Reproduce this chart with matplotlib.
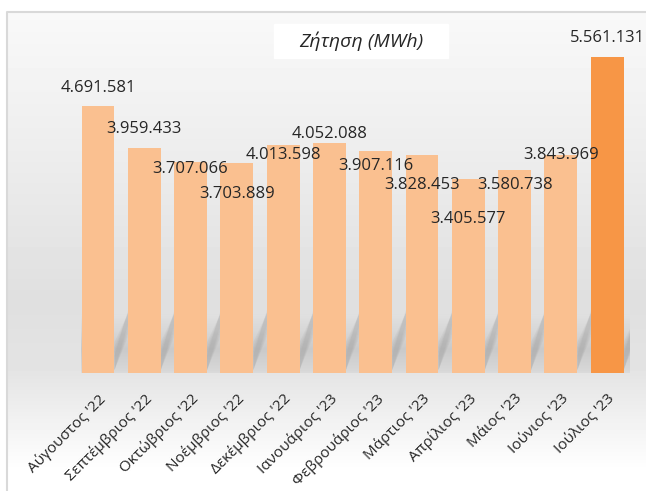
import matplotlib
matplotlib.use("Agg")
import matplotlib.pyplot as plt
import numpy as np
from matplotlib.patches import Rectangle, Polygon

months = ["Αύγουστος '22", "Σεπτέμβριος '22", "Οκτώβριος '22", "Νοέμβριος '22",
          "Δεκέμβριος '22", "Ιανουάριος '23", "Φεβρουάριος '23", "Μάρτιος '23",
          "Απρίλιος '23", "Μάιος '23", "Ιούνιος '23", "Ιούλιος '23"]
demand = [4691581, 3959433, 3707066, 3703889, 4013598, 4052088,
          3907116, 3828453, 3405577, 3580738, 3843969, 5561131]
# where each value label sits relative to the bar top (px, + = lower)
label_shift = [-18, -19, 7, 31, 10, -9, 15, 30, 40, 15, 0, -19]

plt.rcParams['font.family'] = ['Open Sans', 'DejaVu Sans']

W, H = 646, 491
fig = plt.figure(figsize=(W / 100, H / 100), dpi=100)

# background with gradient + frame
bg = fig.add_axes([0, 0, 1, 1])
bg.set_xlim(0, W)
bg.set_ylim(H, 0)
bg.axis('off')
ys = np.arange(H)
g = np.interp(ys, [12, 150, 300, 372, 470, 491],
              [0.975, 0.93, 0.875, 0.895, 1.0, 1.0])
img = np.tile(g[:, None], (1, W))
img[:12, :] = 1
img[:, :7] = 1
bg.imshow(img, cmap='gray', vmin=0, vmax=1, extent=[0, W, H, 0],
          aspect='auto', interpolation='bilinear')
bg.plot([7, 7, W], [H, 12, 12], color='#d9d9d9', lw=1.5)
bg.add_patch(Rectangle((274, 24), 174, 34, color='white'))
bg.text(361, 41, 'Ζήτηση (MWh)', style='italic', fontsize=14,
        ha='center', va='center', color='#262626')

# main chart
left, right, bottom, top = 74.85, 630.3, 373, 15
ax = fig.add_axes([left / W, (H - bottom) / H, (right - left) / W, (bottom - top) / H])
ax.patch.set_alpha(0)

x = np.arange(len(months))
w = 0.71
colors = ['#FAC090'] * (len(months) - 1) + ['#F79646']

# darker floor band of the plot area
yy = np.linspace(0, 1, 60)
band_alpha = np.interp(yy, [0, 0.15, 0.4, 0.7, 1.0], [0.12, 0.18, 0.30, 0.12, 0.0])
band = np.zeros((60, 2, 4))
band[..., :3] = 0.55
band[..., 3] = band_alpha[::-1, None]
ax.imshow(band, extent=[-0.36, 11.54, 0, 1.05e6], aspect='auto',
          interpolation='bilinear', zorder=0.5)

# soft diagonal shadows behind the bars
for i in x:
    xr = i + w / 2
    for k in [0.0, 0.04, 0.08, 0.12]:
        sh = Polygon([(xr, 0.05e6), (xr + 0.33 + k, 0.95e6),
                      (xr + 0.33 + k, 1.2e6 + k * 1e6), (xr, 0.3e6 + k * 2e6)],
                     closed=True, color='#808080', alpha=0.08, lw=0, zorder=1)
        ax.add_patch(sh)

ax.bar(x, demand, width=w, color=colors, zorder=2)

for i, v in enumerate(demand):
    ax.annotate(f"{v:,}".replace(",", "."), xy=(i, v),
                xytext=(0, -label_shift[i] * 0.72), textcoords='offset points',
                ha='center', va='center', fontsize=12, color='#262626', zorder=3)

ax.set_xticks(x)
ax.set_xticklabels(months, rotation=45, ha='right', rotation_mode='anchor',
                   fontsize=11, color='#262626')
ax.tick_params(axis='x', length=0, pad=13)
ax.set_xlim(-0.5, 11.5)
ax.set_ylim(0, 6.3e6)
ax.set_yticks([])
for s in ax.spines.values():
    s.set_visible(False)

fig.savefig('out.png', dpi=100)
